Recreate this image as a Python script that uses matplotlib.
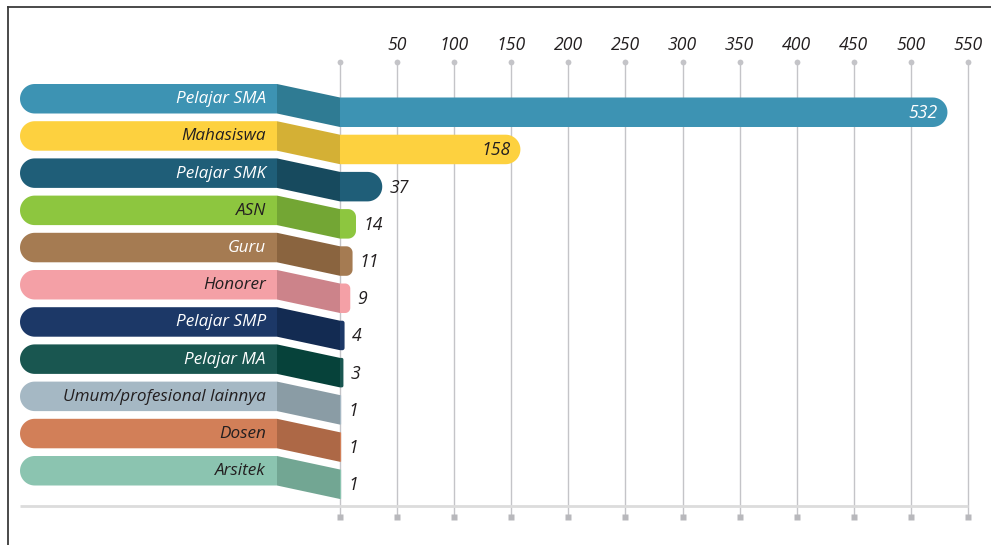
import numpy as np
import matplotlib
matplotlib.use("Agg")
import matplotlib.pyplot as plt
from matplotlib.patches import Polygon
from matplotlib.lines import Line2D

# ---------------- data ----------------
categories = ["Pelajar SMA", "Mahasiswa", "Pelajar SMK", "ASN", "Guru", "Honorer",
              "Pelajar SMP", "Pelajar MA", "Umum/profesional lainnya", "Dosen", "Arsitek"]
values = [532, 158, 37, 14, 11, 9, 4, 3, 1, 1, 1]
tick_values = [50, 100, 150, 200, 250, 300, 350, 400, 450, 500, 550]

bar_colors = ["#3d93b3", "#fdd13f", "#1f5e78", "#8dc63f", "#a57b52", "#f4a0a6",
              "#1c3867", "#195650", "#a5b8c4", "#d27f58", "#8bc4b0"]
shade_colors = ["#2f7b93", "#d4b035", "#174a5e", "#73a634", "#8a643f", "#cc838a",
                "#132b52", "#06423a", "#8a9ca5", "#ad6846", "#72a693"]
label_colors = ["white", "#231f20", "white", "#231f20", "white", "#231f20",
                "white", "white", "#231f20", "#231f20", "#231f20"]

# ---------------- layout ----------------
W, H = 991, 545
FONT = "Open Sans"
FS = 12.3
fig = plt.figure(figsize=(W / 100, H / 100), dpi=100)
ax = fig.add_axes([0, 0, 1, 1])
x0px = 340.0                      # pixel position of value 0
s = (968.0 - x0px) / 550.0        # pixels per unit
ax.set_xlim(-x0px / s, (W - x0px) / s)
ax.set_ylim(H, 0)
ax.axis("off")


def px(p):
    """pixel column -> data x"""
    return (p - x0px) / s


def rounded(xl, xr, yt, yb, r, round_left, round_right, color, z):
    rx, ry = r / s, r
    t = np.linspace(0, np.pi / 2, 16)
    pts = []
    if round_right and r > 0:
        cx, cy = xr - rx, yt + ry
        pts += [(cx + rx * np.sin(a), cy - ry * np.cos(a)) for a in t]
        cx, cy = xr - rx, yb - ry
        pts += [(cx + rx * np.cos(a), cy + ry * np.sin(a)) for a in t]
    else:
        pts += [(xr, yt), (xr, yb)]
    if round_left and r > 0:
        cx, cy = xl + rx, yb - ry
        pts += [(cx - rx * np.sin(a), cy + ry * np.cos(a)) for a in t]
        cx, cy = xl + rx, yt + ry
        pts += [(cx - rx * np.cos(a), cy - ry * np.sin(a)) for a in t]
    else:
        pts += [(xl, yb), (xl, yt)]
    ax.add_patch(Polygon(pts, closed=True, facecolor=color, edgecolor="none", zorder=z))


grid_c = "#c4c4c8"
y_top, y_bot, y_base = 62, 516, 506
# gridlines (including 0)
for v in [0] + tick_values:
    ax.plot([v, v], [y_top, y_bot], color=grid_c, lw=1.0, zorder=1, solid_capstyle="butt")
    ax.plot([v], [y_top], marker="o", ms=4.2, color=grid_c, mec="none", zorder=1)
    ax.plot([v], [y_bot + 1], marker="s", ms=4.0, color="#b8b8bc", mec="none", zorder=1)
for v in tick_values:
    ax.text(v, 45, str(v), ha="center", va="center", fontsize=FS + 0.4, style="italic",
            family=FONT, color="#231f20")
# baseline
ax.plot([px(20), tick_values[-1]], [y_base, y_base], color="#dcdcdc", lw=2.0, zorder=1,
        solid_capstyle="butt")

# rows
row_gap, h, drop = 37.2, 29.5, 13.5
for i, (cat, val) in enumerate(zip(categories, values)):
    yt = 84 + row_gap * i
    yb = yt + h
    # label pill
    rounded(px(20), px(277), yt, yb, h / 2, True, False, bar_colors[i], 3)
    ax.text(px(266), (yt + yb) / 2 + 0.5, cat, ha="right", va="center", fontsize=FS,
            style="italic", family=FONT, color=label_colors[i], zorder=5)
    # connector
    ax.add_patch(Polygon([(px(277), yt), (0, yt + drop), (0, yb + drop), (px(277), yb)],
                         closed=True, facecolor=shade_colors[i], edgecolor="none", zorder=3))
    # value bar
    wpx = val * s
    r = min(h / 2, wpx / 2)
    rounded(0, val, yt + drop, yb + drop, r, False, True, bar_colors[i], 3)
    yc = (yt + yb) / 2 + drop
    if val > 100:
        ax.text(val - 10 / s, yc + 0.5, str(val), ha="right", va="center", fontsize=FS + 0.4,
                style="italic", family=FONT, color=label_colors[i], zorder=5)
    else:
        ax.text(val + 7 / s, yc + 1, str(val), ha="left", va="center", fontsize=FS + 0.4,
                style="italic", family=FONT, color="#231f20", zorder=5)

# outer frame (top and left edges)
fig.add_artist(Line2D([7.5 / W, 7.5 / W], [0, 1 - 6.5 / H], color="#3a3a3a", lw=1.3,
                      transform=fig.transFigure))
fig.add_artist(Line2D([7.5 / W, 1], [1 - 6.5 / H, 1 - 6.5 / H], color="#3a3a3a", lw=1.3,
                      transform=fig.transFigure))

fig.savefig("out.png", dpi=100, facecolor="white")
